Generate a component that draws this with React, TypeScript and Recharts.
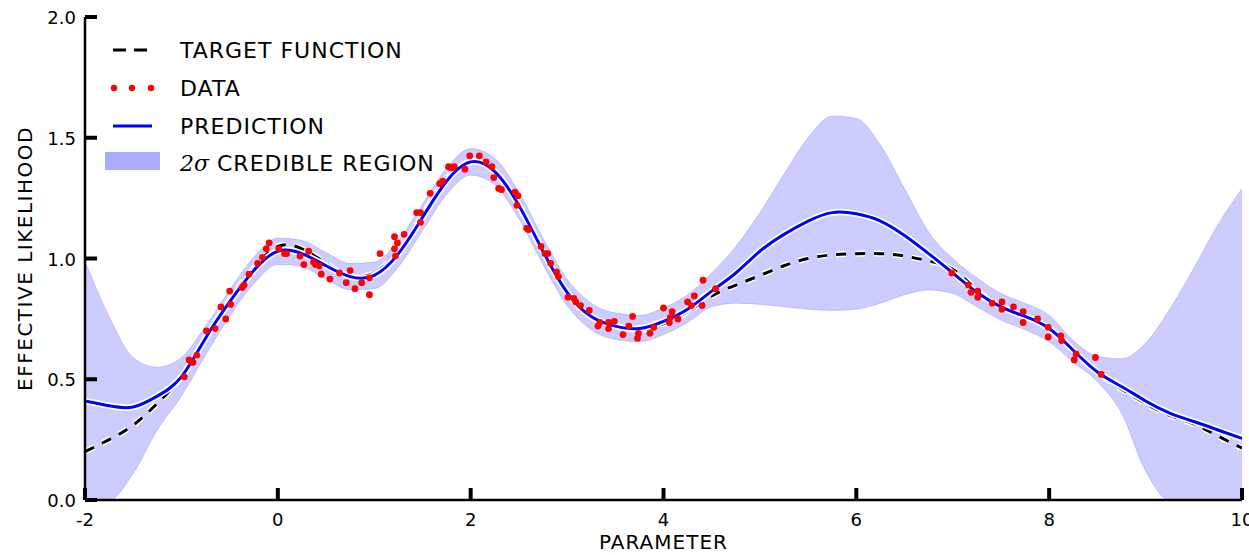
import { Area, ComposedChart, Legend, Line, Scatter, XAxis, YAxis } from 'recharts'

// grid of the smooth curves
const xs = [
  -2, -1.75, -1.5, -1.25, -1, -0.75, -0.5, -0.25, 0, 0.25, 0.5, 0.75, 1, 1.25, 1.5, 1.75, 2,
  2.25, 2.5, 2.75, 3, 3.25, 3.5, 3.75, 4, 4.25, 4.5, 4.75, 5, 5.25, 5.5, 5.75, 6, 6.25, 6.5,
  6.75, 7, 7.25, 7.5, 7.75, 8, 8.25, 8.5, 8.75, 9, 9.25, 9.5, 9.75, 10,
]

const target = [
  0.2, 0.25, 0.31, 0.4, 0.51, 0.67, 0.83, 0.96, 1.05, 1.04, 0.98, 0.93, 0.94, 1.03, 1.18, 1.33,
  1.4, 1.36, 1.22, 1.03, 0.86, 0.76, 0.72, 0.705, 0.73, 0.78, 0.845, 0.89, 0.93, 0.97, 1.0,
  1.015, 1.02, 1.02, 1.01, 0.99, 0.955, 0.87, 0.8, 0.76, 0.71, 0.62, 0.53, 0.46, 0.4, 0.35,
  0.315, 0.265, 0.215,
]

const prediction = [
  0.41, 0.39, 0.385, 0.43, 0.51, 0.67, 0.82, 0.95, 1.03, 1.02, 0.97, 0.925, 0.93, 1.02, 1.17,
  1.32, 1.4, 1.36, 1.22, 1.03, 0.86, 0.76, 0.72, 0.71, 0.74, 0.79, 0.865, 0.94, 1.03, 1.1,
  1.155, 1.19, 1.185, 1.155, 1.095, 1.02, 0.94, 0.86, 0.8, 0.76, 0.71, 0.62, 0.53, 0.47, 0.41,
  0.36, 0.325, 0.29, 0.255,
]

const upper = [
  0.99, 0.76, 0.59, 0.55, 0.59, 0.72, 0.87, 1.005, 1.085, 1.075, 1.025, 0.98, 0.985, 1.075,
  1.225, 1.375, 1.455, 1.415, 1.275, 1.085, 0.915, 0.815, 0.775, 0.765, 0.795, 0.85, 0.94,
  1.05, 1.19, 1.35, 1.5, 1.59, 1.58, 1.47, 1.29, 1.11, 1.0, 0.92, 0.855, 0.815, 0.765, 0.66,
  0.595, 0.585, 0.65, 0.79, 0.96, 1.14, 1.29,
]

const lower = [
  0, 0, 0.11, 0.29, 0.43, 0.6, 0.76, 0.895, 0.975, 0.965, 0.915, 0.87, 0.875, 0.965, 1.115,
  1.265, 1.345, 1.305, 1.165, 0.975, 0.805, 0.705, 0.665, 0.655, 0.685, 0.735, 0.8, 0.815,
  0.81, 0.8, 0.79, 0.785, 0.79, 0.815, 0.85, 0.87, 0.855, 0.8, 0.745, 0.705, 0.655, 0.57, 0.49,
  0.36, 0.12, 0, 0, 0, 0,
]

// noisy observations
const dataX = [
  -0.97, -0.92, -0.89, -0.88, -0.84, -0.74, -0.65, -0.54, -0.59, -0.49, -0.5, -0.37, -0.35,
  -0.3, -0.21, -0.16, -0.12, -0.09, 0.01, 0.07, 0.09, 0.23, 0.32, 0.27, 0.37, 0.39, 0.43, 0.45,
  0.54, 0.64, 0.71, 0.75, 0.8, 0.87, 0.95, 0.95, 1.06, 1.21, 1.24, 1.21, 1.22, 1.31, 1.44, 1.48,
  1.48, 1.58, 1.68, 1.71, 1.77, 1.8, 1.83, 1.94, 1.99, 2.09, 2.16, 2.22, 2.24, 2.29, 2.32, 2.46,
  2.49, 2.48, 2.58, 2.6, 2.73, 2.77, 2.8, 2.83, 2.89, 2.91, 3.01, 3.07, 3.09, 3.14, 3.23, 3.32,
  3.34, 3.43, 3.43, 3.49, 3.58, 3.64, 3.68, 3.74, 3.73, 3.86, 3.9, 4.0, 4.07, 4.09, 4.06, 4.15,
  4.25, 4.29, 4.32, 4.4, 4.41, 4.54, 6.99, 7.16, 7.19, 7.26, 7.26, 7.41, 7.51, 7.51, 7.63, 7.73,
  7.73, 7.88, 7.99, 7.99, 8.12, 8.13, 8.28, 8.26, 8.48, 8.54,
]

const dataY = [
  0.51, 0.58, 0.57, 0.57, 0.6, 0.7, 0.71, 0.75, 0.8, 0.81, 0.865, 0.88, 0.89, 0.935, 0.98, 1.005,
  1.04, 1.065, 1.04, 1.02, 1.02, 1.01, 1.03, 0.975, 0.985, 0.975, 0.97, 0.935, 0.915, 0.94,
  0.9, 0.95, 0.875, 0.9, 0.92, 0.85, 1.02, 1.09, 1.065, 1.04, 1.01, 1.1, 1.19, 1.19, 1.15, 1.27,
  1.31, 1.32, 1.38, 1.375, 1.38, 1.37, 1.425, 1.425, 1.4, 1.38, 1.335, 1.29, 1.285, 1.275, 1.26,
  1.22, 1.125, 1.12, 1.05, 1.02, 1.02, 0.98, 0.945, 0.925, 0.84, 0.835, 0.82, 0.805, 0.785,
  0.72, 0.735, 0.735, 0.71, 0.74, 0.685, 0.72, 0.76, 0.69, 0.67, 0.69, 0.715, 0.795, 0.755,
  0.78, 0.735, 0.75, 0.82, 0.805, 0.845, 0.805, 0.91, 0.875, 0.94, 0.89, 0.86, 0.865, 0.84,
  0.815, 0.82, 0.79, 0.8, 0.78, 0.735, 0.75, 0.715, 0.675, 0.68, 0.66, 0.605, 0.58, 0.59, 0.52,
]

const xTicks = [-2, 0, 2, 4, 6, 8, 10]
const yTicks = [0, 0.5, 1, 1.5, 2]

const FONT = '"DejaVu Sans", sans-serif'

const curves = xs.map((x, i) => ({
  x,
  target: target[i],
  pred: prediction[i],
  band: [lower[i], upper[i]],
}))

const points = dataX.map((x, i) => ({ x, y: dataY[i] }))

type TickProps = { x?: number; y?: number; payload?: { value?: number } }

function XTick({ x = 0, y = 0, payload }: TickProps) {
  return (
    <g>
      <line x1={x} x2={x} y1={y} y2={y - 12} stroke="#000" strokeWidth={4} />
      <text x={x} y={y + 26} textAnchor="middle" fontSize={18} fontFamily={FONT} fill="#000">
        {payload?.value}
      </text>
    </g>
  )
}

function YTick({ x = 0, y = 0, payload }: TickProps) {
  return (
    <g>
      <line x1={x} x2={x + 12} y1={y} y2={y} stroke="#000" strokeWidth={4} />
      <text x={x - 9} y={y + 7} textAnchor="end" fontSize={18} fontFamily={FONT} fill="#000">
        {(payload?.value ?? 0).toFixed(1)}
      </text>
    </g>
  )
}

function LegendBox() {
  const text = { fontSize: 22, fontFamily: FONT, fill: '#000', letterSpacing: 1 }
  return (
    <svg width={380} height={150}>
      <line x1={13} x2={47} y1={20} y2={20} stroke="#000" strokeWidth={3} strokeDasharray="13 8" />
      <text x={80} y={28} {...text}>TARGET FUNCTION</text>
      {[14, 32, 51].map(cx => (
        <circle key={cx} cx={cx} cy={58} r={3.2} fill="#ff0000" />
      ))}
      <text x={80} y={66} {...text}>DATA</text>
      <line x1={13} x2={52} y1={96} y2={96} stroke="#fff" strokeWidth={6} />
      <line x1={13} x2={52} y1={96} y2={96} stroke="#0000ff" strokeWidth={3} />
      <text x={80} y={104} {...text}>PREDICTION</text>
      <rect x={5} y={122} width={55} height={18} fill="#0000ff" fillOpacity={0.33} />
      <text x={80} y={141} {...text}>
        <tspan fontFamily='"DejaVu Serif", serif' fontStyle="italic" letterSpacing={0}>2σ</tspan> CREDIBLE REGION
      </text>
    </svg>
  )
}

type LabelProps = { viewBox?: { x?: number; y?: number; width?: number; height?: number } }

function YLabel({ viewBox }: LabelProps) {
  const cx = (viewBox?.x ?? 0) + 25
  const cy = (viewBox?.y ?? 0) + (viewBox?.height ?? 0) / 2
  return (
    <text
      x={cx}
      y={cy}
      transform={`rotate(-90 ${cx} ${cy})`}
      textAnchor="middle"
      dominantBaseline="central"
      fontSize={20}
      letterSpacing={1.5}
      fontFamily={FONT}
      fill="#000"
    >
      EFFECTIVE LIKELIHOOD
    </text>
  )
}

function XLabel({ viewBox }: LabelProps) {
  const cx = (viewBox?.x ?? 0) + (viewBox?.width ?? 0) / 2
  const by = (viewBox?.y ?? 0) + 49
  return (
    <text
      x={cx}
      y={by}
      textAnchor="middle"
      fontSize={20}
      letterSpacing={1}
      fontFamily={FONT}
      fill="#000"
    >
      PARAMETER
    </text>
  )
}

export default function App() {
  return (
    <div style={{ position: 'absolute', left: 0, top: 0, background: '#fff' }}>
      <ComposedChart
        width={1249}
        height={555}
        data={curves}
        margin={{ top: 17, right: 7, bottom: 0, left: 0 }}
      >
        <XAxis
          dataKey="x"
          type="number"
          domain={[-2, 10]}
          ticks={xTicks}
          interval={0}
          height={55}
          tickSize={0}
          tickMargin={0}
          tickLine={false}
          tick={<XTick />}
          axisLine={{ stroke: '#000', strokeWidth: 2.5 }}
          allowDataOverflow
          label={<XLabel />}
        />
        <YAxis
          type="number"
          domain={[0, 2]}
          ticks={yTicks}
          interval={0}
          width={85}
          tickSize={0}
          tickMargin={0}
          tickLine={false}
          tick={<YTick />}
          axisLine={{ stroke: '#000', strokeWidth: 2.5 }}
          allowDataOverflow
          label={<YLabel />}
        />
        <Area
          type="monotone"
          dataKey="band"
          fill="#0000ff"
          fillOpacity={0.2}
          stroke="#0000ff"
          strokeOpacity={0.15}
          strokeWidth={1}
          isAnimationActive={false}
          activeDot={false}
          legendType="none"
        />
        <Line
          type="natural"
          dataKey="target"
          stroke="#fff"
          strokeWidth={6}
          strokeDasharray="10 9"
          dot={false}
          activeDot={false}
          isAnimationActive={false}
          legendType="none"
        />
        <Line
          type="natural"
          dataKey="target"
          stroke="#000"
          strokeWidth={3}
          strokeDasharray="10 9"
          dot={false}
          activeDot={false}
          isAnimationActive={false}
          legendType="none"
        />
        <Line
          type="natural"
          dataKey="pred"
          stroke="#fff"
          strokeWidth={6.5}
          dot={false}
          activeDot={false}
          isAnimationActive={false}
          legendType="none"
        />
        <Line
          type="natural"
          dataKey="pred"
          stroke="#0000ff"
          strokeWidth={3}
          dot={false}
          activeDot={false}
          isAnimationActive={false}
          legendType="none"
        />
        <Scatter
          data={points}
          dataKey="y"
          isAnimationActive={false}
          shape={(p: { cx?: number; cy?: number }) => (
            <circle cx={p.cx} cy={p.cy} r={3.4} fill="#ff0000" />
          )}
        />
        <Legend
          layout="vertical"
          align="center"
          verticalAlign="middle"
          content={<LegendBox />}
          wrapperStyle={{ position: 'absolute', left: 100, top: 30, width: 380, height: 150 }}
        />
      </ComposedChart>
    </div>
  )
}
